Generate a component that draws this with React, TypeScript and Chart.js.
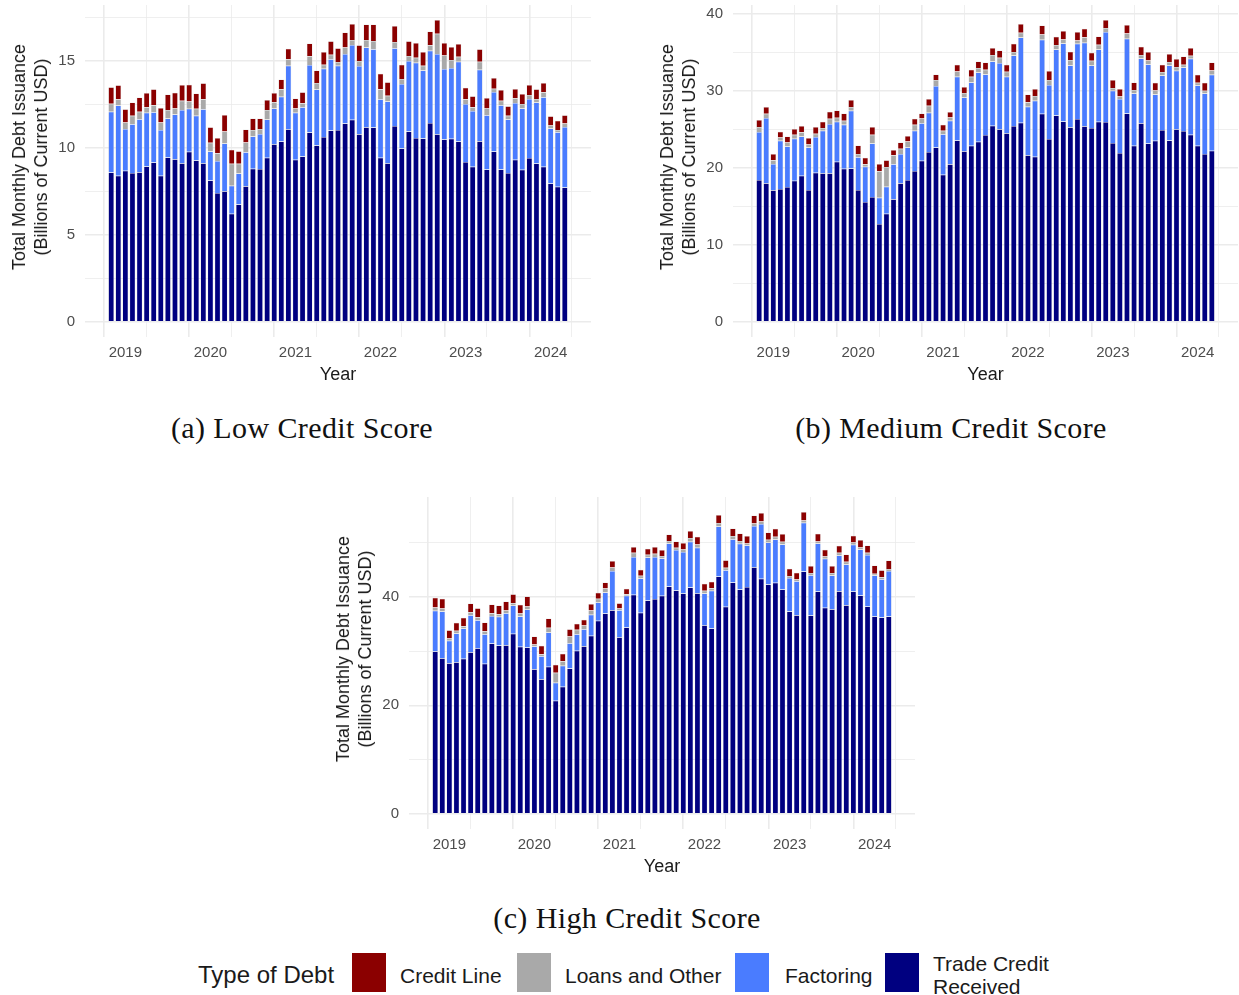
import { useEffect, useRef } from 'react';
import { Chart, registerables } from 'chart.js';

Chart.register(...registerables);

// one bar per month, Nov 2018 .. Mar 2024
const months: string[] = Array.from({ length: 65 }, (_, i) => {
  const m = 10 + i;
  const y = 2018 + Math.floor(m / 12);
  return `${y}-${String((m % 12) + 1).padStart(2, '0')}`;
});

// (a) Low credit score, billions USD
const lowTrade = [8.59, 8.39, 8.68, 8.55, 8.60, 8.93, 9.16, 8.39, 9.45, 9.35, 9.12, 9.77, 9.27, 9.12, 8.13, 7.40, 7.51, 6.21, 6.75, 7.80, 8.80, 8.78, 9.43, 10.21, 10.36, 11.07, 9.31, 9.50, 10.88, 10.13, 10.63, 10.99, 11.03, 11.40, 11.61, 10.78, 11.19, 11.17, 9.43, 9.12, 11.26, 9.96, 10.94, 10.57, 10.54, 11.43, 10.78, 10.48, 10.52, 10.36, 9.18, 8.91, 10.38, 8.76, 9.79, 8.76, 8.55, 9.31, 8.74, 9.41, 9.10, 8.91, 7.95, 7.76, 7.72];
const lowFactoring = [3.49, 4.04, 2.41, 2.81, 3.04, 3.08, 2.89, 2.64, 2.23, 2.56, 3.06, 2.47, 2.57, 3.10, 1.66, 1.85, 2.74, 1.61, 1.78, 1.95, 1.85, 2.02, 2.20, 2.05, 2.58, 3.65, 2.70, 2.83, 3.88, 3.22, 3.92, 4.10, 3.69, 3.99, 4.30, 3.92, 4.57, 4.49, 3.36, 3.54, 4.46, 3.71, 4.05, 4.32, 3.90, 4.15, 4.61, 4.05, 4.07, 4.59, 3.34, 3.21, 4.11, 3.11, 3.42, 3.69, 3.08, 3.27, 3.52, 3.40, 3.50, 4.00, 3.16, 3.14, 3.48];
const lowLoans = [0.46, 0.36, 0.36, 0.48, 0.44, 0.32, 0.40, 0.42, 0.50, 0.35, 0.52, 0.42, 0.40, 0.57, 0.50, 0.44, 0.69, 1.26, 0.55, 0.56, 0.38, 0.29, 0.55, 0.36, 0.43, 0.37, 0.25, 0.23, 0.50, 0.38, 0.23, 0.26, 0.21, 0.38, 0.28, 0.29, 0.43, 0.48, 0.58, 0.34, 0.36, 0.29, 0.29, 0.29, 0.28, 0.31, 1.17, 0.77, 0.46, 0.29, 0.27, 0.21, 0.46, 0.39, 0.19, 0.25, 0.21, 0.27, 0.26, 0.23, 0.21, 0.28, 0.17, 0.13, 0.20];
const lowCreditLine = [0.94, 0.80, 0.77, 0.76, 0.81, 0.82, 0.92, 0.84, 0.88, 0.91, 0.91, 0.97, 0.88, 0.92, 0.90, 0.88, 0.95, 0.81, 0.73, 0.74, 0.65, 0.59, 0.57, 0.53, 0.55, 0.61, 0.57, 0.63, 0.74, 0.71, 0.73, 0.77, 0.79, 0.86, 0.92, 0.90, 0.90, 0.95, 0.89, 0.77, 0.92, 0.82, 0.84, 0.84, 0.79, 0.80, 0.78, 0.72, 0.74, 0.73, 0.67, 0.63, 0.71, 0.61, 0.62, 0.63, 0.55, 0.53, 0.58, 0.57, 0.56, 0.54, 0.54, 0.52, 0.48];

// (b) Medium credit score
const midTrade = [18.40, 17.97, 17.06, 17.24, 17.49, 18.32, 18.96, 17.11, 19.35, 19.27, 19.27, 20.78, 19.87, 19.91, 17.11, 15.55, 16.20, 12.70, 14.04, 15.90, 17.97, 18.40, 19.57, 20.91, 22.03, 22.63, 19.09, 20.43, 23.54, 22.12, 22.85, 23.37, 24.23, 25.44, 24.97, 24.45, 25.40, 25.83, 21.60, 21.43, 27.00, 23.71, 26.78, 26.00, 25.23, 26.31, 25.36, 25.14, 25.96, 25.92, 23.20, 21.90, 27.04, 22.85, 25.75, 23.15, 23.50, 24.88, 23.54, 24.97, 24.75, 24.28, 22.85, 21.77, 22.20];
const midFactoring = [6.22, 8.47, 3.42, 6.26, 5.27, 5.44, 5.10, 5.52, 4.62, 5.52, 6.39, 5.18, 5.70, 7.48, 4.23, 4.58, 6.95, 3.41, 3.50, 4.53, 3.80, 4.23, 5.22, 4.84, 5.10, 7.95, 5.23, 5.66, 8.25, 6.99, 8.21, 8.98, 7.87, 8.34, 8.59, 7.34, 9.16, 11.06, 6.31, 7.25, 9.59, 7.00, 8.55, 10.11, 8.03, 9.76, 10.84, 8.12, 9.37, 11.66, 6.78, 7.00, 9.68, 6.78, 8.42, 10.24, 6.00, 7.09, 9.72, 7.60, 8.25, 9.85, 7.82, 7.86, 9.85];
const midLoans = [0.65, 0.56, 0.47, 0.43, 0.52, 0.52, 0.52, 0.39, 0.44, 0.35, 0.69, 0.52, 0.52, 0.47, 0.43, 0.30, 1.13, 3.42, 2.55, 1.17, 0.69, 0.78, 0.78, 0.64, 0.90, 0.78, 0.47, 0.43, 0.69, 0.57, 0.73, 0.57, 0.60, 0.82, 0.70, 0.65, 0.43, 0.60, 0.56, 0.61, 0.69, 0.65, 0.57, 0.52, 0.69, 0.43, 0.73, 0.61, 0.61, 0.52, 0.34, 0.34, 0.69, 0.43, 0.43, 0.52, 0.52, 0.43, 0.43, 0.48, 0.35, 0.38, 0.35, 0.35, 0.56];
const midCreditLine = [0.91, 0.86, 0.82, 0.74, 0.78, 0.73, 0.82, 0.82, 0.86, 0.82, 0.91, 0.95, 0.95, 0.91, 1.12, 0.87, 0.99, 0.95, 0.86, 0.69, 0.82, 0.69, 0.78, 0.65, 0.87, 0.73, 0.78, 0.69, 0.87, 0.77, 0.91, 0.86, 0.95, 0.91, 0.95, 0.91, 1.08, 1.13, 1.03, 0.90, 1.16, 1.17, 1.08, 1.08, 1.08, 1.08, 1.08, 1.03, 1.08, 1.04, 1.04, 0.95, 1.08, 1.00, 1.08, 1.08, 1.00, 0.95, 1.04, 1.03, 1.08, 1.00, 1.03, 1.04, 1.04];

// (c) High credit score
const highTrade = [29.91, 28.69, 27.76, 27.95, 28.56, 29.79, 30.53, 27.64, 31.39, 31.02, 31.08, 33.17, 30.77, 30.65, 26.66, 24.82, 27.09, 20.82, 23.40, 26.78, 30.04, 30.90, 32.80, 35.57, 36.92, 37.53, 32.56, 34.34, 40.36, 37.04, 39.31, 39.56, 40.17, 41.89, 41.15, 40.60, 41.71, 40.66, 34.77, 34.15, 43.73, 38.14, 42.63, 41.34, 41.77, 45.45, 43.30, 42.26, 42.57, 41.34, 37.28, 36.61, 44.66, 36.55, 40.97, 37.96, 37.71, 41.03, 38.45, 40.97, 40.23, 38.21, 36.36, 36.18, 36.36];
const highFactoring = [7.50, 8.60, 4.12, 5.28, 5.59, 6.82, 5.16, 5.47, 5.04, 5.28, 5.90, 5.22, 5.59, 7.00, 4.18, 4.23, 6.33, 3.32, 3.87, 4.67, 3.07, 3.13, 3.87, 3.37, 3.87, 7.19, 4.97, 5.83, 6.94, 6.33, 7.93, 7.74, 6.88, 7.93, 7.44, 7.62, 8.41, 8.36, 5.83, 6.94, 9.22, 6.76, 7.98, 8.41, 7.68, 7.56, 10.08, 7.74, 7.98, 8.29, 6.15, 6.26, 8.96, 7.43, 8.85, 9.03, 6.21, 6.57, 7.50, 8.60, 8.48, 9.46, 7.56, 7.06, 8.36];
const highLoans = [0.61, 0.55, 0.43, 0.49, 0.43, 0.55, 0.55, 0.55, 0.55, 0.49, 0.49, 0.43, 0.56, 0.56, 0.36, 0.37, 0.86, 1.84, 0.86, 1.23, 0.80, 0.68, 0.80, 0.68, 0.73, 0.67, 0.31, 0.31, 0.80, 0.49, 0.49, 0.61, 0.43, 0.43, 0.43, 0.49, 0.68, 0.61, 0.49, 0.49, 0.61, 0.43, 0.56, 0.50, 0.37, 0.49, 0.49, 0.49, 0.49, 0.49, 0.37, 0.31, 0.43, 0.37, 0.36, 0.43, 0.43, 0.50, 0.49, 0.43, 0.37, 0.43, 0.31, 0.37, 0.37];
const highCreditLine = [1.78, 1.78, 1.54, 1.48, 1.54, 1.60, 1.66, 1.60, 1.59, 1.60, 1.66, 1.66, 1.59, 1.84, 1.48, 1.54, 1.71, 1.48, 1.35, 1.35, 1.10, 1.04, 1.17, 1.10, 1.11, 1.17, 0.98, 0.98, 1.04, 1.10, 1.10, 1.23, 1.11, 1.22, 1.16, 1.17, 1.29, 1.41, 1.29, 1.17, 1.48, 1.41, 1.41, 1.41, 1.35, 1.48, 1.54, 1.35, 1.48, 1.42, 1.35, 1.23, 1.54, 1.29, 1.42, 1.23, 1.29, 1.29, 1.35, 1.23, 1.35, 1.35, 1.53, 1.29, 1.59];

const lowMajor = [0, 5, 10, 15];
const lowMinor = [2.5, 7.5, 12.5, 17.5];
const midMajor = [0, 10, 20, 30, 40];
const midMinor = [5, 15, 25, 35];
const highMajor = [0, 20, 40];
const highMinor = [10, 30, 50];

const seriesNames = ['Trade Credit Received', 'Factoring', 'Loans and Other', 'Credit Line'];
const seriesColors = ['#000080', '#4a7cff', '#a9a9a9', '#8b0000'];

const SANS = '"Liberation Sans", Arial, sans-serif';
const SERIF = '"Liberation Serif", "Times New Roman", serif';

type PanelProps = {
  trade: number[];
  factoring: number[];
  loans: number[];
  credit: number[];
  major: number[];
  minor: number[];
  left: number;
  top: number;
  width: number;
  rightPad: number;
};

function DebtPanel({ trade, factoring, loans, credit, major, minor, left, top, width, rightPad }: PanelProps) {
  const canvasRef = useRef<HTMLCanvasElement>(null);
  const chartRef = useRef<Chart | null>(null);

  useEffect(() => {
    if (!canvasRef.current) return;
    if (chartRef.current) chartRef.current.destroy();

    const totals = trade.map((v, i) => v + factoring[i] + loans[i] + credit[i]);
    const peak = Math.max(...totals);

    // ggplot-like 5% expansion around the bars
    const n = months.length;
    const half = 0.45;
    const span = n - 1 + 2 * half;
    const xMin = -half - span * 0.05;
    const xMax = n - 1 + half + span * 0.05;

    const janIdx = months.map((m, i) => (m.endsWith('-01') ? i : -1)).filter((i) => i >= 0);
    const julIdx = months.map((m, i) => (m.endsWith('-07') ? i : -1)).filter((i) => i >= 0);
    const xTicks = [...janIdx, ...julIdx].sort((a, b) => a - b);
    const yTicks = [...major, ...minor].sort((a, b) => a - b);

    const values = [trade, factoring, loans, credit];

    chartRef.current = new Chart(canvasRef.current, {
      type: 'bar',
      data: {
        datasets: values.map((vals, k) => ({
          label: seriesNames[k],
          data: vals.map((y, i) => ({ x: i, y })),
          backgroundColor: seriesColors[k],
          borderColor: 'rgba(215,215,215,0.9)',
          borderWidth: 0.5,
          barPercentage: 0.9,
          categoryPercentage: 0.9,
        })),
      },
      options: {
        animation: false,
        responsive: true,
        maintainAspectRatio: false,
        layout: { padding: { top: 5, right: rightPad, left: 0, bottom: 0 } },
        plugins: {
          legend: { display: false },
          tooltip: { enabled: false },
        },
        scales: {
          x: {
            type: 'linear',
            stacked: true,
            min: xMin,
            max: xMax,
            offset: false,
            border: { display: false },
            grid: {
              drawTicks: false,
              color: '#ebebeb',
              lineWidth: (ctx: any) => (ctx.tick && janIdx.includes(ctx.tick.value) ? 1.6 : 0.8),
            },
            afterBuildTicks: (axis: any) => {
              axis.ticks = xTicks.map((v) => ({ value: v }));
            },
            afterFit: (axis: any) => {
              axis.height = 58;
              axis.paddingLeft = 0;
              axis.paddingRight = 0;
            },
            ticks: {
              autoSkip: false,
              maxRotation: 0,
              padding: 7,
              color: '#4d4d4d',
              font: { family: SANS, size: 15 },
              callback: (value: any) => (janIdx.includes(value) ? months[value].slice(0, 4) : ''),
            },
            title: {
              display: true,
              text: 'Year',
              color: '#1a1a1a',
              font: { family: SANS, size: 18 },
              padding: { top: 0, bottom: 9 },
            },
          },
          y: {
            stacked: true,
            min: -peak * 0.05,
            max: peak * 1.05,
            border: { display: false },
            grid: {
              drawTicks: false,
              color: '#ebebeb',
              lineWidth: (ctx: any) => (ctx.tick && major.includes(ctx.tick.value) ? 1.6 : 0.8),
            },
            afterBuildTicks: (axis: any) => {
              axis.ticks = yTicks.map((v) => ({ value: v }));
            },
            afterFit: (axis: any) => {
              axis.width = 85;
              axis.paddingTop = 0;
              axis.paddingBottom = 0;
            },
            ticks: {
              autoSkip: false,
              padding: 10,
              color: '#4d4d4d',
              font: { family: SANS, size: 15 },
              callback: (value: any) => (major.includes(value) ? String(value) : ''),
            },
          },
        },
      } as any,
    });

    return () => {
      if (chartRef.current) {
        chartRef.current.destroy();
        chartRef.current = null;
      }
    };
  }, [trade, factoring, loans, credit, major, minor, rightPad]);

  return (
    <div style={{ position: 'absolute', left, top, width, height: 395 }}>
      <canvas ref={canvasRef} />
      {/* y-axis title, centred a little above the panel middle as in the figure */}
      <div
        style={{
          position: 'absolute',
          left: 30,
          top: 157,
          transform: 'translate(-50%, -50%) rotate(-90deg)',
          fontFamily: SANS,
          fontSize: 18,
          lineHeight: '22px',
          color: '#1a1a1a',
          textAlign: 'center',
          whiteSpace: 'pre',
        }}
      >
        {'Total Monthly Debt Issuance\n(Billions of Current USD)'}
      </div>
    </div>
  );
}

function Caption({ text, left, top, width }: { text: string; left: number; top: number; width: number }) {
  return (
    <div
      style={{
        position: 'absolute',
        left,
        top,
        width,
        textAlign: 'center',
        fontFamily: SERIF,
        fontSize: 30,
        lineHeight: '30px',
        letterSpacing: 0.4,
        color: '#111',
        whiteSpace: 'nowrap',
      }}
    >
      {text}
    </div>
  );
}

const legendItems = [
  { label: 'Credit Line', color: seriesColors[3], keyLeft: 352, textLeft: 400 },
  { label: 'Loans and Other', color: seriesColors[2], keyLeft: 517, textLeft: 565 },
  { label: 'Factoring', color: seriesColors[1], keyLeft: 735, textLeft: 785 },
  { label: 'Trade Credit\nReceived', color: seriesColors[0], keyLeft: 885, textLeft: 933 },
];

export default function App() {
  return (
    <div style={{ position: 'absolute', left: 0, top: 0, width: 1239, height: 995, background: '#fff', overflow: 'hidden' }}>
      <DebtPanel trade={lowTrade} factoring={lowFactoring} loans={lowLoans} credit={lowCreditLine} major={lowMajor} minor={lowMinor} left={0} top={0} width={600} rightPad={9} />
      <DebtPanel trade={midTrade} factoring={midFactoring} loans={midLoans} credit={midCreditLine} major={midMajor} minor={midMinor} left={648} top={0} width={591} rightPad={1} />
      <DebtPanel trade={highTrade} factoring={highFactoring} loans={highLoans} credit={highCreditLine} major={highMajor} minor={highMinor} left={324} top={492} width={600} rightPad={9} />

      <Caption text="(a) Low Credit Score" left={0} top={413} width={604} />
      <Caption text="(b) Medium Credit Score" left={648} top={413} width={606} />
      <Caption text="(c) High Credit Score" left={324} top={903} width={606} />

      <div style={{ position: 'absolute', left: 198, top: 963, fontFamily: SANS, fontSize: 24, lineHeight: '24px', color: '#1a1a1a', whiteSpace: 'nowrap' }}>
        Type of Debt
      </div>
      {legendItems.map((item) => (
        <div key={item.label}>
          <div style={{ position: 'absolute', left: item.keyLeft, top: 953, width: 34, height: 39, background: item.color }} />
          <div
            style={{
              position: 'absolute',
              left: item.textLeft,
              top: item.label.includes('\n') ? 952 : 965,
              fontFamily: SANS,
              fontSize: 21,
              lineHeight: item.label.includes('\n') ? '23px' : '21px',
              color: '#1a1a1a',
              whiteSpace: 'pre',
            }}
          >
            {item.label}
          </div>
        </div>
      ))}
    </div>
  );
}
